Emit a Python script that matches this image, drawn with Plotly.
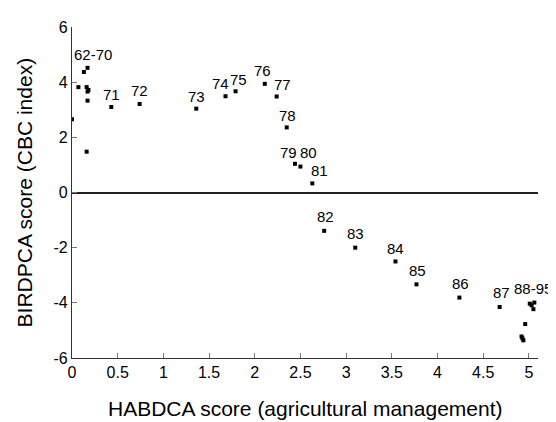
import plotly.graph_objects as go

# Data points (HABDCA score, BIRDPCA score)
hab_x = [0.0, 0.07, 0.13, 0.17, 0.16, 0.18, 0.17, 0.17, 0.16,
         0.43, 0.74, 1.36, 1.68, 1.79, 2.11, 2.24, 2.35, 2.44, 2.50, 2.63,
         2.76, 3.10, 3.54, 3.77, 4.24, 4.68,
         5.01, 5.06, 5.05, 5.03, 4.96, 4.92, 4.93, 4.94]
bird_y = [2.66, 3.82, 4.37, 4.52, 3.82, 3.72, 3.66, 3.33, 1.48,
          3.10, 3.21, 3.04, 3.49, 3.67, 3.94, 3.48, 2.36, 1.04, 0.94, 0.33,
          -1.39, -2.00, -2.50, -3.33, -3.81, -4.15,
          -4.03, -3.99, -4.23, -4.09, -4.77, -5.22, -5.29, -5.36]

# Year labels and their positions (data units)
label_text = ["62-70", "71", "72", "73", "74", "75", "76", "77", "78", "79", "80",
              "81", "82", "83", "84", "85", "86", "87", "88-95"]
label_x = [0.23, 0.43, 0.74, 1.36, 1.62, 1.82, 2.09, 2.30, 2.36, 2.37, 2.59,
           2.71, 2.77, 3.10, 3.54, 3.78, 4.25, 4.70, 5.05]
label_y = [5.01, 3.56, 3.70, 3.49, 3.94, 4.10, 4.43, 3.90, 2.80, 1.46, 1.46,
           0.80, -0.88, -1.49, -2.04, -2.82, -3.30, -3.63, -3.48]

x_ticks = [0, 0.5, 1, 1.5, 2, 2.5, 3, 3.5, 4, 4.5, 5]
x_tick_text = ["0", "0.5", "1", "1.5", "2", "2.5", "3", "3.5", "4", "4.5", "5"]
y_ticks = [-6, -4, -2, 0, 2, 4, 6]
y_tick_text = ["-6", "-4", "-2", "0", "2", "4", "6"]

X_RANGE = [0, 5.1]
Y_RANGE = [-6, 6]

FONT = "Liberation Sans, Arial, Helvetica, sans-serif"

fig = go.Figure()
fig.add_trace(go.Scatter(
    x=hab_x, y=bird_y, mode="markers",
    marker=dict(symbol="square", size=4, color="black", line=dict(width=0)),
    showlegend=False, hoverinfo="skip",
))

annotations = []
for t, lx, ly in zip(label_text, label_x, label_y):
    # convert data coords to paper coords via the axis ranges (avoids clipping at the edge)
    px = (lx - X_RANGE[0]) / (X_RANGE[1] - X_RANGE[0])
    py = (ly - Y_RANGE[0]) / (Y_RANGE[1] - Y_RANGE[0])
    annotations.append(dict(x=px, y=py, xref="paper", yref="paper", text=t, showarrow=False,
                            font=dict(family=FONT, size=15, color="black"),
                            xanchor="center", yanchor="middle"))

annotations.append(dict(x=0.5, y=-0.153, xref="paper", yref="paper",
                        text="HABDCA score (agricultural management)", showarrow=False,
                        font=dict(family=FONT, size=21, color="black"),
                        xanchor="center", yanchor="middle"))
annotations.append(dict(x=-0.101, y=0.5, xref="paper", yref="paper",
                        text="BIRDPCA score (CBC index)", showarrow=False, textangle=-90,
                        font=dict(family=FONT, size=21, color="black"),
                        xanchor="center", yanchor="middle"))

fig.update_layout(
    width=548, height=414,
    margin=dict(l=64, r=18, t=11, b=64),
    paper_bgcolor="white", plot_bgcolor="white",
    font=dict(family=FONT, size=16, color="black"),
    annotations=annotations,
    xaxis=dict(range=X_RANGE, tickvals=x_ticks, ticktext=x_tick_text,
               showgrid=False, zeroline=False, showline=True, linecolor="#333",
               linewidth=1.2, ticks="inside", ticklen=5, tickcolor="#777",
               tickfont=dict(family=FONT, size=16, color="black")),
    yaxis=dict(range=Y_RANGE, tickvals=y_ticks, ticktext=y_tick_text,
               showgrid=False, zeroline=True, zerolinecolor="#222", zerolinewidth=1.5,
               showline=True, linecolor="#333", linewidth=1.2,
               ticks="inside", ticklen=5, tickcolor="#777",
               tickfont=dict(family=FONT, size=16, color="black")),
)

fig.write_html("out.html")
